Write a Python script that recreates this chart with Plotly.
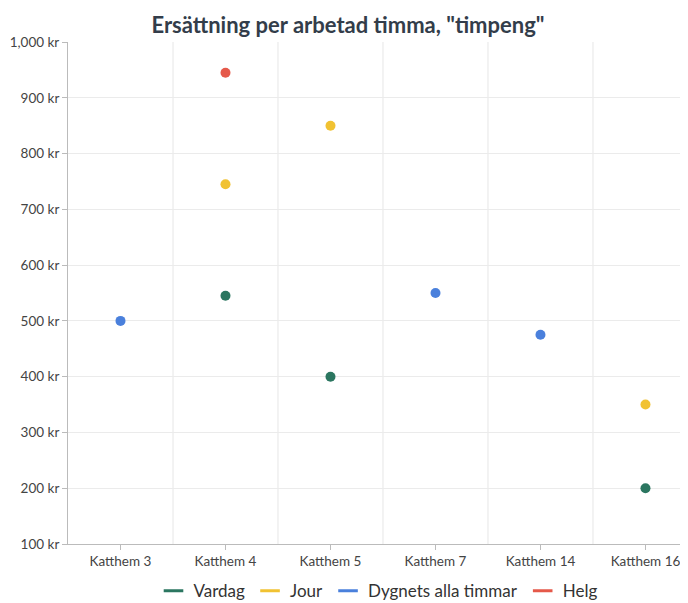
import plotly.graph_objects as go

categories = ["Katthem 3", "Katthem 4", "Katthem 5", "Katthem 7", "Katthem 14", "Katthem 16"]
series_names = ["Vardag", "Jour", "Dygnets alla timmar", "Helg"]
vardag = [None, 545, 400, None, None, 200]
jour = [None, 745, 850, None, None, 350]
dygnets = [500, None, None, 550, 475, None]
helg = [None, 945, None, None, None, None]
colors = ["#2B7660", "#F1C232", "#4A80DC", "#E5594A"]
y_ticks = [100, 200, 300, 400, 500, 600, 700, 800, 900, 1000]
y_tick_labels = ["100 kr", "200 kr", "300 kr", "400 kr", "500 kr", "600 kr", "700 kr", "800 kr", "900 kr", "1,000 kr"]

fig = go.Figure()
for name, vals, col in zip(series_names, [vardag, jour, dygnets, helg], colors):
    fig.add_trace(go.Scatter(
        x=list(range(len(categories))), y=vals, mode="markers", name=name,
        marker=dict(color=col, size=10), showlegend=False, hoverinfo="x+y"))
for name, col in zip(series_names, colors):
    fig.add_trace(go.Scatter(
        x=[None], y=[None], mode="markers", name=name,
        marker=dict(symbol="line-ew", size=14, color=col, line=dict(color=col, width=3))))

shapes = []
for i in range(1, len(categories)):
    shapes.append(dict(type="line", xref="x", yref="paper", x0=i - 0.5, x1=i - 0.5, y0=0, y1=1,
                       line=dict(color="#E6E6E6", width=1), layer="below"))

# the page body has an 8px default margin, so the figure is sized to fit the 688x603 window
fig.update_layout(
    width=680, height=595,
    paper_bgcolor="white", plot_bgcolor="white",
    font=dict(family="Lato", color="#444444", size=13.5),
    title=dict(text="Ersättning per arbetad timma, \"timpeng\"", x=0.5, xanchor="center",
               y=0.9714, yanchor="middle", automargin=False,
               font=dict(family="Lato", size=22, color="#333D4A", weight="bold")),
    margin=dict(l=60, r=0, t=34, b=59, autoexpand=False),
    shapes=shapes,
    legend=dict(orientation="h", x=0.5, xanchor="center", y=-0.058, yanchor="top",
                font=dict(size=17, color="#333333"), itemwidth=30, tracegroupgap=0),
    xaxis=dict(
        tickvals=list(range(len(categories))), ticktext=categories,
        range=[-0.5, 5.405], showgrid=False, zeroline=False, automargin=False,
        showline=True, linecolor="#BBBBBB", linewidth=1,
        ticks="outside", ticklen=5, tickcolor="#BBBBBB",
        tickfont=dict(size=13.5, color="#444444")),
    yaxis=dict(
        tickvals=y_ticks, ticktext=y_tick_labels, range=[100, 1000], automargin=False,
        showgrid=True, gridcolor="#EBEBEB", zeroline=False,
        showline=True, linecolor="#BBBBBB", linewidth=1,
        ticks="outside", ticklen=5, tickcolor="#BBBBBB",
        tickfont=dict(size=13.5, color="#444444")),
)

fig.write_html("out.html")
